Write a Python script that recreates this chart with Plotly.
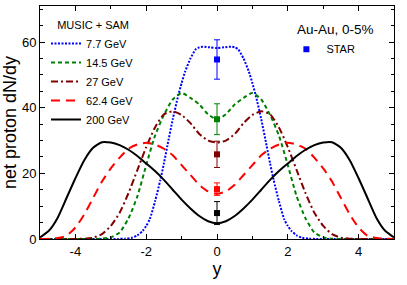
import plotly.graph_objects as go

# half-curves (y >= 0); curves are symmetric in rapidity
y77 = [0, 0.2, 0.4, 0.5, 0.6, 0.75, 0.9, 1.0, 1.1, 1.25, 1.4, 1.5, 1.6, 1.75, 1.9, 2.0, 2.1, 2.25, 2.4, 2.6, 2.8, 3.2, 5.0]
v77 = [58.2, 58.4, 58.6, 58.4, 57.8, 55, 51, 47.5, 43.5, 36.5, 28.5, 23, 18, 11.5, 6, 4, 2.5, 1.1, 0.4, 0.1, 0.02, 0, 0]

y145 = [0, 0.25, 0.5, 0.75, 1.0, 1.25, 1.5, 1.75, 2.0, 2.25, 2.5, 2.75, 3.0, 3.25, 3.5, 5.0]
v145 = [36.5, 38, 41, 43, 44.5, 42.5, 37.8, 31.5, 22.5, 13, 6.3, 2, 0.5, 0.1, 0, 0]

y27 = [0, 0.25, 0.5, 0.75, 1.0, 1.25, 1.5, 1.75, 2.0, 2.25, 2.5, 2.75, 3.0, 3.25, 3.5, 3.75, 4.0, 5.0]
v27 = [29.4, 30, 32, 35.3, 37.8, 38.9, 38, 34, 28, 21, 14, 8, 4, 1.5, 0.4, 0.1, 0, 0]

y624 = [0, 0.25, 0.5, 0.75, 1.0, 1.25, 1.5, 1.75, 2.0, 2.25, 2.5, 2.75, 3.0, 3.25, 3.5, 3.75, 4.0, 4.25, 4.5, 4.75, 5.0]
v624 = [13.8, 14.5, 16.5, 19.5, 22.5, 25.5, 27.5, 28.8, 29.3, 28.8, 27.5, 24.8, 21.5, 17.5, 12.5, 7.5, 3.5, 1.0, 0.3, 0.1, 0]

y200 = [0, 0.25, 0.5, 0.75, 1.0, 1.25, 1.5, 1.75, 2.0, 2.25, 2.5, 2.75, 3.0, 3.25, 3.5, 3.75, 4.0, 4.25, 4.5, 4.75, 5.0]
v200 = [4.8, 5.4, 7, 9.3, 12, 15, 18, 20.7, 23, 25.3, 27.2, 28.6, 29.4, 29.5, 27.8, 24, 18.5, 12.5, 6.5, 2.5, 0.5]

labels = ["7.7 GeV", "14.5 GeV", "27 GeV", "62.4 GeV", "200 GeV"]
colors = ["#0000ff", "#008000", "#800000", "#ff0000", "#000000"]
dashes = ["2px,1.5px", "4px,3px", "7px,3px,2px,3px", "9px,6px", "solid"]

# STAR data at y = 0
star_y = [0, 0, 0, 0, 0]
star_v = [54.7, 36.5, 25.8, 15.2, 7.9]
star_err = [6.0, 4.7, 4.0, 1.9, 3.5]


def mirror(ys, vs):
    xs = [-y for y in ys[:0:-1]] + ys
    ws = vs[:0:-1] + vs
    return xs, ws


fig = go.Figure()
halves = [(y77, v77), (y145, v145), (y27, v27), (y624, v624), (y200, v200)]
for (ys, vs), lab, col, dsh in zip(halves, labels, colors, dashes):
    xs, ws = mirror(ys, vs)
    fig.add_trace(go.Scatter(x=xs, y=ws, mode="lines", name=lab,
                             line=dict(color=col, width=2, dash=dsh, shape="spline", smoothing=0.6),
                             legend="legend"))

for i in range(5):
    fig.add_trace(go.Scatter(x=[star_y[i]], y=[star_v[i]], mode="markers",
                             name="STAR", showlegend=(i == 0), legend="legend2",
                             marker=dict(symbol="square", size=6, color=colors[i]),
                             error_y=dict(type="data", array=[star_err[i]], color=colors[i],
                                          thickness=1, width=3)))

font = "Liberation Sans, Arial, Helvetica, sans-serif"
axis_common = dict(showline=True, linecolor="black", linewidth=1, mirror="ticks",
                   ticks="inside", ticklen=5, tickcolor="black", showgrid=False,
                   zeroline=False, automargin=False,
                   tickfont=dict(size=13, color="black", family=font))

fig.update_layout(
    width=407, height=285,
    margin=dict(l=40, r=13, t=6, b=46, autoexpand=False),
    paper_bgcolor="white", plot_bgcolor="white",
    font=dict(family=font, color="black"),
    xaxis=dict(range=[-5, 5], tickvals=[-4, -2, 0, 2, 4], ticktext=["-4", "-2", "0", "2", "4"],
               minor=dict(dtick=1, ticks="inside", ticklen=3, tickcolor="black"),
               title=dict(text="y", font=dict(size=18), standoff=2), **axis_common),
    yaxis=dict(range=[0, 71], tickvals=[0, 20, 40, 60],
               minor=dict(dtick=5, ticks="inside", ticklen=3, tickcolor="black"),
               title=dict(text="net proton dN/dy", font=dict(size=18), standoff=4), **axis_common),
    legend=dict(x=0.017, y=0.963, xanchor="left", yanchor="top", bgcolor="rgba(0,0,0,0)",
                font=dict(size=11, family=font), tracegroupgap=0,
                title=dict(text="\u00a0\u00a0\u00a0MUSIC + SAM", font=dict(size=11, family=font))),
    legend2=dict(x=0.696, y=0.877, xanchor="left", yanchor="top", bgcolor="rgba(0,0,0,0)",
                 font=dict(size=11, family=font)),
    annotations=[dict(text="Au-Au, 0-5%", x=0.948, y=0.901, xref="paper", yref="paper",
                      xanchor="right", yanchor="middle", showarrow=False,
                      font=dict(size=13.5, family=font))],
)

fig.write_html("out.html", config={"displayModeBar": False},
               post_script="document.body.style.margin='0';document.body.style.padding='0';")
